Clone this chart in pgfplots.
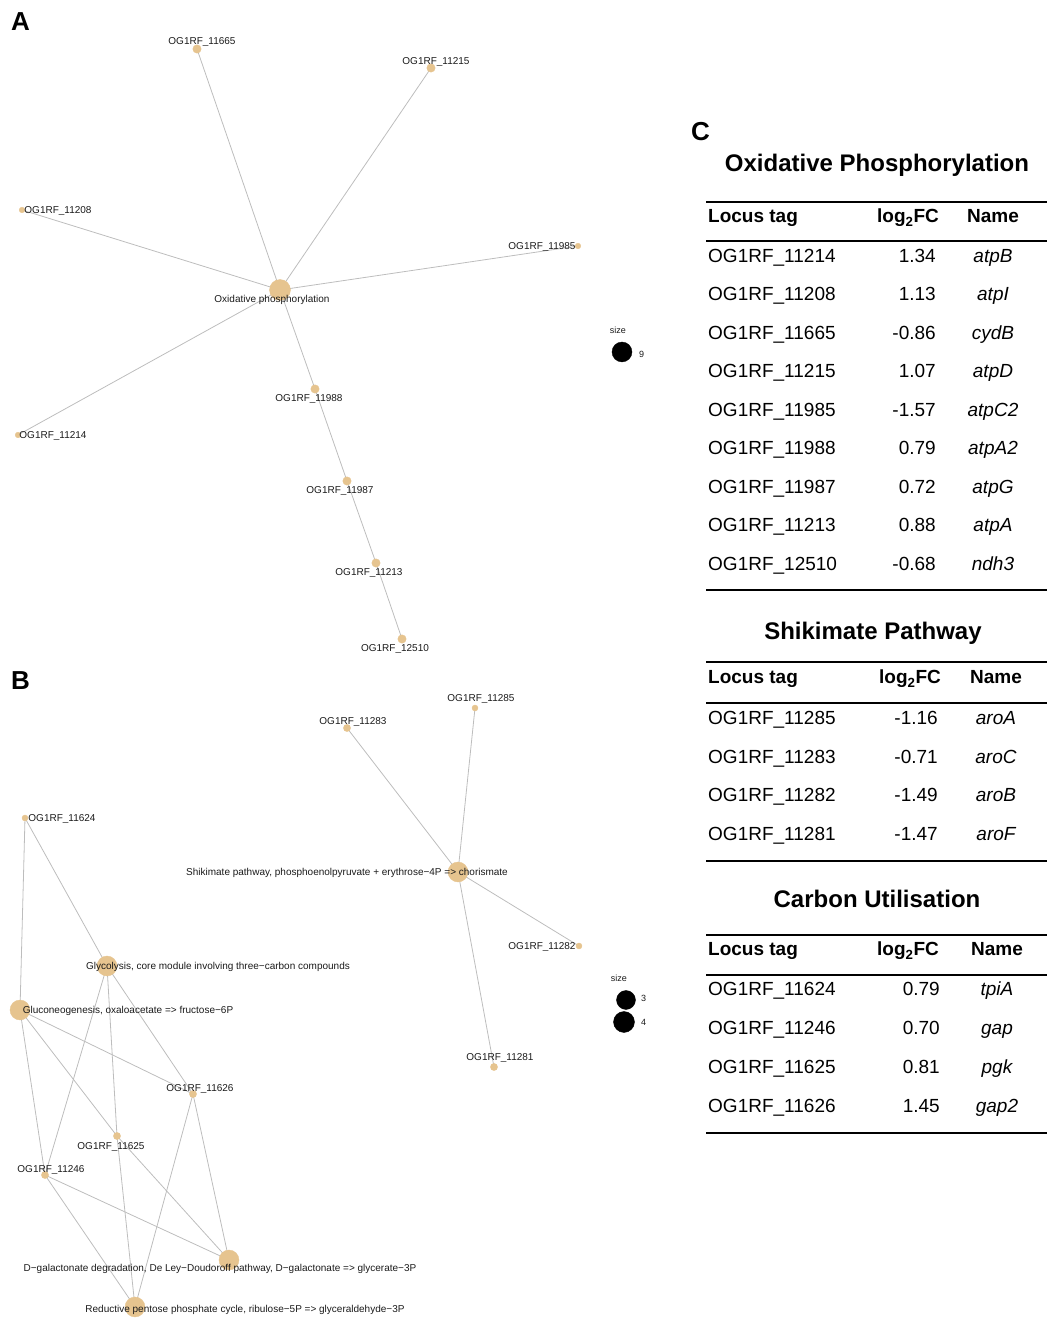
\documentclass[border=0pt]{standalone}
\usepackage{fontspec}
\setmainfont{Liberation Sans}
\usepackage{pgfplots}
\pgfplotsset{compat=1.18}
\definecolor{nodecol}{HTML}{E6C48F}
\definecolor{edgecol}{HTML}{BDBDBD}
\definecolor{labcol}{HTML}{1A1A1A}
\tikzset{
  lab/.style={font=\fontsize{10bp}{12bp}\selectfont, text=labcol, anchor=base, inner sep=0pt},
  tb/.style={font=\fontsize{19bp}{22bp}\selectfont, text=black, inner sep=0pt},
  tbh/.style={font=\fontsize{19bp}{22bp}\selectfont\bfseries, text=black, inner sep=0pt},
  ttl/.style={font=\fontsize{24bp}{28bp}\selectfont\bfseries, text=black, inner sep=0pt, anchor=base},
  pan/.style={font=\fontsize{26bp}{30bp}\selectfont\bfseries, text=black, inner sep=0pt, anchor=base west},
  sml/.style={font=\fontsize{9bp}{11bp}\selectfont, text=labcol, inner sep=0pt},
}
\pgfplotsset{
  edge/.style={draw=edgecol, line width=0.8bp, no markers, forget plot, on layer=axis background},
  nd/.style={only marks, mark=*, color=nodecol, mark size=#1, forget plot, on layer=pre main},
  rule/.style={draw=black, line width=1.6bp, no markers, forget plot},
}
\newcommand{\edge}[4]{\addplot[edge] coordinates {(#1,#2) (#3,#4)};}
\newcommand{\trow}[6]{%
  \node[tb, anchor=base west] at (708,#1) {#2};
  \node[tb, anchor=base east] at (#5,#1) {#3};
  \node[tb, anchor=base] at (#6,#1) {\itshape #4};}
\newcommand{\thead}[4]{%
  \node[tbh, anchor=base west] at (708,#1) {Locus tag};
  \node[tbh, anchor=base west] at (#2,#1) {log\textsubscript{2}FC};
  \node[tbh, anchor=base west] at (#3,#1) {Name};}
\begin{document}
\begin{tikzpicture}
\begin{axis}[at={(0,0)}, anchor=south west, width=1048bp, height=1318bp,
  scale only axis, hide axis, xmin=0, xmax=1048, ymin=0, ymax=1318,
  y dir=reverse, clip=false, set layers=standard]
% ---------------- Panel A edges
\edge{280}{290}{197}{49}
\edge{280}{290}{431}{68}
\edge{280}{290}{22}{210}
\edge{280}{290}{578}{246}
\edge{280}{290}{18}{435}
\addplot[edge] coordinates {(280,290) (315,389) (347,481) (376,563) (402,639)};
% Panel A nodes
\addplot[nd=10.5] coordinates {(280,290)};
\addplot[nd=4.2] coordinates {(197,49) (431,68) (315,389) (347,481) (376,563) (402,639)};
\addplot[nd=2.8] coordinates {(22,210) (578,246) (18,435)};
% Panel A labels
\begin{pgfonlayer}{axis foreground}
\node[lab] at (202,44.6) {OG1RF\_11665};
\node[lab] at (436,64.6) {OG1RF\_11215};
\node[lab] at (58,213.6) {OG1RF\_11208};
\node[lab] at (542,249.6) {OG1RF\_11985};
\node[lab] at (272,302.6) {Oxidative phosphorylation};
\node[lab] at (309,401.6) {OG1RF\_11988};
\node[lab] at (53,438.6) {OG1RF\_11214};
\node[lab] at (340,493.6) {OG1RF\_11987};
\node[lab] at (369,575.6) {OG1RF\_11213};
\node[lab] at (395,651.6) {OG1RF\_12510};
\end{pgfonlayer}
% Panel A legend
\node[sml, anchor=base] at (618,334) {size};
\addplot[only marks, mark=*, color=black, mark size=10, forget plot] coordinates {(622,352)};
\node[sml, anchor=base west] at (639,358) {9};
% ---------------- Panel B edges
\edge{458}{872}{475}{708}
\edge{458}{872}{347}{728}
\edge{458}{872}{579}{946}
\edge{458}{872}{494}{1067}
\edge{25}{818}{107}{966}
\edge{25}{818}{20}{1010}
\edge{107}{966}{45}{1175}
\edge{107}{966}{117}{1136}
\edge{107}{966}{193}{1094}
\edge{20}{1010}{193}{1094}
\edge{20}{1010}{117}{1136}
\edge{20}{1010}{45}{1175}
\edge{45}{1175}{229}{1260}
\edge{45}{1175}{135}{1307}
\edge{117}{1136}{229}{1260}
\edge{117}{1136}{135}{1307}
\edge{193}{1094}{229}{1260}
\edge{193}{1094}{135}{1307}
% Panel B nodes
\addplot[nd=10] coordinates {(458,872) (107,966) (20,1010) (229,1260) (135,1307)};
\addplot[nd=3.6] coordinates {(347,728) (494,1067) (193,1094) (117,1136) (45,1175)};
\addplot[nd=3] coordinates {(475,708) (579,946) (25,818)};
% Panel B labels
\begin{pgfonlayer}{axis foreground}
\node[lab] at (481,701.6) {OG1RF\_11285};
\node[lab] at (353,724.6) {OG1RF\_11283};
\node[lab] at (62,821.6) {OG1RF\_11624};
\node[lab] at (347,875.6) {Shikimate pathway, phosphoenolpyruvate + erythrose−4P => chorismate};
\node[lab] at (542,949.6) {OG1RF\_11282};
\node[lab] at (218,969.6) {Glycolysis, core module involving three−carbon compounds};
\node[lab] at (128,1013.6) {Gluconeogenesis, oxaloacetate => fructose−6P};
\node[lab] at (500,1060.6) {OG1RF\_11281};
\node[lab] at (200,1091.6) {OG1RF\_11626};
\node[lab] at (111,1149.6) {OG1RF\_11625};
\node[lab] at (51,1172.6) {OG1RF\_11246};
\node[lab] at (220,1271.6) {D−galactonate degradation, De Ley−Doudoroff pathway, D−galactonate => glycerate−3P};
\node[lab] at (245,1312.6) {Reductive pentose phosphate cycle, ribulose−5P => glyceraldehyde−3P};
\end{pgfonlayer}
% Panel B legend
\node[sml, anchor=base] at (619,982) {size};
\addplot[only marks, mark=*, color=black, mark size=9.5, forget plot] coordinates {(626,1000)};
\addplot[only marks, mark=*, color=black, mark size=10.5, forget plot] coordinates {(624,1022)};
\node[sml, anchor=base west] at (641,1002) {3};
\node[sml, anchor=base west] at (641,1026) {4};
% ---------------- Panel letters
\node[pan] at (11,31) {A};
\node[pan] at (11,690) {B};
\node[pan] at (691,141) {C};
% ---------------- Table: Oxidative Phosphorylation
\node[ttl] at (877,172) {Oxidative Phosphorylation};
\addplot[rule] coordinates {(706,202) (1047,202)};
\thead{223}{877}{967}{}
\addplot[rule] coordinates {(706,241) (1047,241)};
\trow{263}{OG1RF\_11214}{1.34}{atpB}{936}{993}
\trow{301}{OG1RF\_11208}{1.13}{atpI}{936}{993}
\trow{340}{OG1RF\_11665}{-0.86}{cydB}{936}{993}
\trow{378}{OG1RF\_11215}{1.07}{atpD}{936}{993}
\trow{417}{OG1RF\_11985}{-1.57}{atpC2}{936}{993}
\trow{455}{OG1RF\_11988}{0.79}{atpA2}{936}{993}
\trow{494}{OG1RF\_11987}{0.72}{atpG}{936}{993}
\trow{532}{OG1RF\_11213}{0.88}{atpA}{936}{993}
\trow{571}{OG1RF\_12510}{-0.68}{ndh3}{936}{993}
\addplot[rule] coordinates {(706,590) (1047,590)};
% ---------------- Table: Shikimate Pathway
\node[ttl] at (873,640) {Shikimate Pathway};
\addplot[rule] coordinates {(706,662) (1047,662)};
\thead{684}{879}{970}{}
\addplot[rule] coordinates {(706,703) (1047,703)};
\trow{725}{OG1RF\_11285}{-1.16}{aroA}{938}{996}
\trow{764}{OG1RF\_11283}{-0.71}{aroC}{938}{996}
\trow{802}{OG1RF\_11282}{-1.49}{aroB}{938}{996}
\trow{841}{OG1RF\_11281}{-1.47}{aroF}{938}{996}
\addplot[rule] coordinates {(706,861) (1047,861)};
% ---------------- Table: Carbon Utilisation
\node[ttl] at (877,908) {Carbon Utilisation};
\addplot[rule] coordinates {(706,935) (1047,935)};
\thead{956}{877}{971}{}
\addplot[rule] coordinates {(706,975) (1047,975)};
\trow{996}{OG1RF\_11624}{0.79}{tpiA}{940}{997}
\trow{1035}{OG1RF\_11246}{0.70}{gap}{940}{997}
\trow{1074}{OG1RF\_11625}{0.81}{pgk}{940}{997}
\trow{1113}{OG1RF\_11626}{1.45}{gap2}{940}{997}
\addplot[rule] coordinates {(706,1133) (1047,1133)};
\end{axis}
\pgfresetboundingbox
\useasboundingbox (0,0) rectangle (1048bp,1318bp);
\end{tikzpicture}
\end{document}
